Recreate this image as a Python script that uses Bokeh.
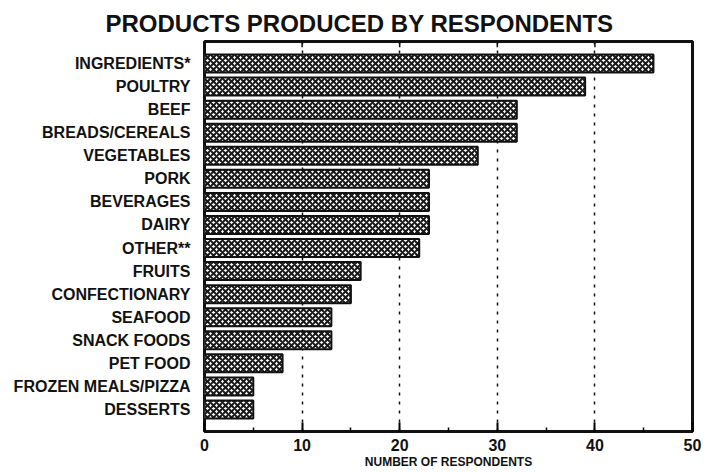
from bokeh.plotting import figure
from bokeh.models import Range1d, FixedTicker, Title
from bokeh.embed import file_html
from bokeh.resources import INLINE

categories = ["INGREDIENTS*", "POULTRY", "BEEF", "BREADS/CEREALS", "VEGETABLES",
              "PORK", "BEVERAGES", "DAIRY", "OTHER**", "FRUITS", "CONFECTIONARY",
              "SEAFOOD", "SNACK FOODS", "PET FOOD", "FROZEN MEALS/PIZZA", "DESSERTS"]
values = [46, 39, 32, 32, 28, 23, 23, 23, 22, 16, 15, 13, 13, 8, 5, 5]
x_ticks = [0, 10, 20, 30, 40, 50]
x_minor = [5, 15, 25, 35, 45]
grid_ticks = [10, 20, 30, 40]

idx = list(range(len(categories)))
FONT = "Liberation Sans"
Y_TOP = -0.955
Y_BOTTOM = len(categories) - 0.045

p = figure(width=702, height=472, output_backend="svg", toolbar_location=None,
           x_range=Range1d(0, 50), y_range=Range1d(Y_BOTTOM, Y_TOP),
           min_border_left=204, min_border_right=10, min_border_top=41, min_border_bottom=41)

p.title = Title(text="PRODUCTS PRODUCED BY RESPONDENTS", align="left", offset=-99,
                text_font=FONT, text_font_size="24px", text_font_style="bold",
                text_color="#111111", standoff=9)

p.outline_line_color = "#111111"
p.outline_line_width = 3

# grid
p.xgrid.ticker = FixedTicker(ticks=grid_ticks)
p.xgrid.grid_line_color = "#111111"
p.xgrid.grid_line_dash = "3 6"
p.xgrid.grid_line_width = 1.5
p.ygrid.grid_line_color = None

p.hbar(y=idx, right=values, left=0, height=0.78,
       fill_color="white", hatch_pattern="x", hatch_color="#1a1a1a",
       hatch_scale=6, hatch_weight=2.0,
       line_color="#111111", line_width=2)

# small inner ticks along the top border
p.segment(x0=grid_ticks, x1=grid_ticks, y0=[Y_TOP] * len(grid_ticks),
          y1=[Y_TOP + 0.25] * len(grid_ticks), line_color="#111111", line_width=1.5)

# bottom axis
xa = p.xaxis[0]
xa.ticker = FixedTicker(ticks=x_ticks, minor_ticks=x_minor)
xa.axis_line_color = None
xa.major_tick_in = 9
xa.major_tick_out = 0
xa.major_tick_line_width = 2
xa.minor_tick_in = 4
xa.minor_tick_out = 0
xa.minor_tick_line_width = 1.5
xa.major_label_text_font = FONT
xa.major_label_text_font_style = "bold"
xa.major_label_text_font_size = "16px"
xa.major_label_text_color = "#111111"
xa.major_label_standoff = 7
xa.axis_label = "NUMBER OF RESPONDENTS"
xa.axis_label_text_font = FONT
xa.axis_label_text_font_style = "bold"
xa.axis_label_text_font_size = "12px"
xa.axis_label_text_color = "#111111"
xa.axis_label_standoff = 1

# left axis
ya = p.yaxis[0]
ya.ticker = FixedTicker(ticks=idx)
ya.major_label_overrides = {i: c for i, c in zip(idx, categories)}
ya.axis_line_color = None
ya.major_tick_line_color = None
ya.minor_tick_line_color = None
ya.major_label_text_font = FONT
ya.major_label_text_font_style = "bold"
ya.major_label_text_font_size = "16px"
ya.major_label_text_color = "#111111"
ya.major_label_standoff = 8

open("out.html", "w").write(file_html(p, INLINE))
